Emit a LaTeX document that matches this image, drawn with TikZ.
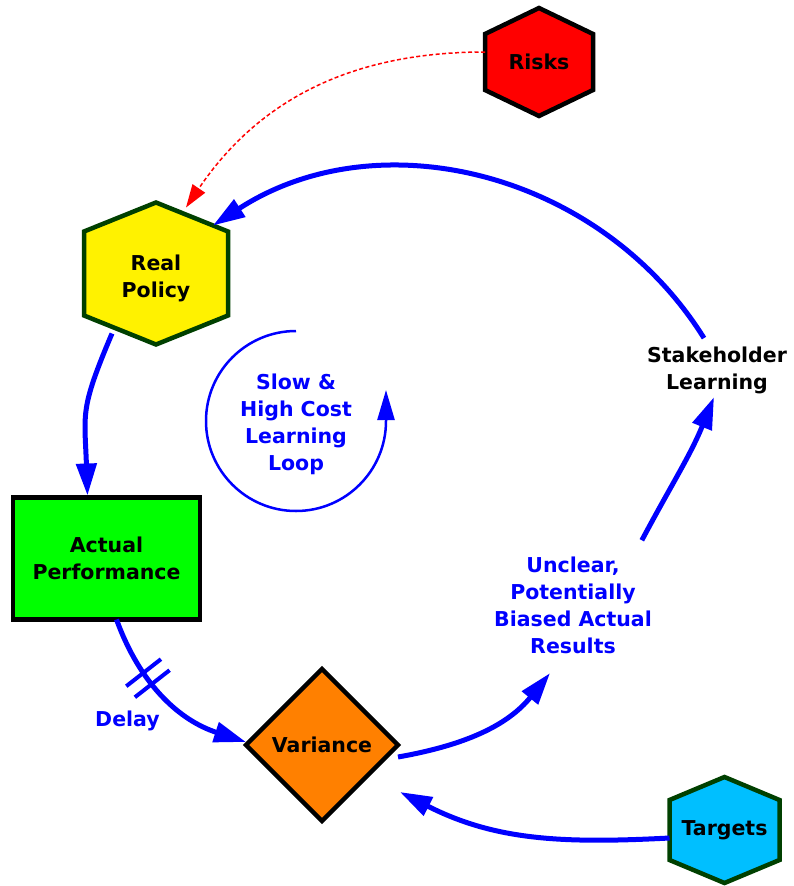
\documentclass[tikz,border=0pt]{standalone}
\usepackage{fontspec}
\setmainfont{DejaVu Sans}
\usepackage{xcolor}
\usepackage{tikz}
\usetikzlibrary{calc}
\usetikzlibrary{arrows.meta}
\usetikzlibrary{shapes.geometric}
\usetikzlibrary{backgrounds}
\usetikzlibrary{decorations.markings}

\definecolor{hexgreen}{RGB}{0,64,0}
\definecolor{varorange}{RGB}{255,128,0}
\definecolor{targetblue}{RGB}{0,191,255}

% hexagon standing on a corner: half width, half height, half side
\newcommand{\hexpath}[3]{(0,#2) -- (#1,#3) -- (#1,-#3) -- (0,-#2) -- (-#1,-#3) -- (-#1,#3) -- cycle}

\begin{document}
\begin{tikzpicture}[x=1pt, y=1pt,
		txt/.style={font=\bfseries\fontsize{20.5}{27}\selectfont, align=center, inner sep=0pt, outer sep=0pt},
		hexagon/.style={line width=4.5pt, line join=miter, draw=hexgreen},
		link/.style={line width=5pt, blue, -{Triangle[length=32pt, width=20pt]}},
		risklink/.style={line width=1.5pt, red, dash pattern=on 4pt off 2.5pt, -{Triangle[length=23pt, width=15pt]}}
	]
	
	\useasboundingbox (0,0) rectangle (794,-886);
	
	% the elements of the loop
	\node[txt, minimum width=108, minimum height=108] (risks) at (539,-62) {Risks};
	\node[txt, minimum width=144, minimum height=142] (policy) at (156,-278) {Real\\Policy};
	\node[txt, draw, line width=4.5pt, fill=green, minimum width=187, minimum height=122] (actual) at (106.5,-558.5) {Actual\\Performance};
	\node[txt, diamond, aspect=1, draw, line width=4.5pt, fill=varorange, minimum width=152, minimum height=152] (variance) at (322,-745) {Variance};
	\node[txt, minimum width=110, minimum height=106] (targets) at (724.5,-830) {Targets};
	\node[txt] (stake) at (717,-370.6) {Stakeholder\\Learning};
	\node[txt, blue] (results) at (573,-605.7) {Unclear,\\Potentially\\Biased Actual\\Results};
	\node[txt, blue] (slow) at (296,-424) {Slow \&\\High Cost\\Learning\\Loop};
	\node[txt, blue] (delay) at (127.5,-720.6) {Delay};
	
	% the hexagons behind their texts
	\begin{scope}[on background layer]
		\filldraw[hexagon, draw=black, fill=red, shift={(risks)}] \hexpath{54}{54}{28};
		\filldraw[hexagon, fill=yellow, shift={([yshift=4.5]policy.center)}] \hexpath{72}{71}{42};
		\filldraw[hexagon, fill=targetblue, shift={(targets)}] \hexpath{55}{53}{30};
	\end{scope}
	
	% the connectors
	\draw[risklink] ([yshift=10]risks.west) to[out=180, in=56] ([shift={(30,-0.5)}]policy.north);
	\draw[link] ([shift={(-13,9)}]stake.north) to[out=122, in=33] ([shift={(57,-18.5)}]policy.north);
	\draw[link] ([shift={(-44,15.5)}]policy.south) to[out=247, in=92, looseness=1.3] ([shift={(-19,2)}]actual.north);
	\draw[link, postaction={decorate}, decoration={markings, mark=at position 0.36 with {\draw[blue, line width=4pt, -] (-7,-22) -- (-7,22) (7,-22) -- (7,22);}}] ([xshift=10]actual.south) to[out=290, in=162] ([yshift=3]variance.west); % with the delay mark
	\draw[link] ([yshift=-12]variance.east) to[out=10, in=231] ([shift={(-23,-19)}]results.south);
	\draw[link] ([shift={(-10,17)}]results.north east) to[out=62, in=248] ([shift={(-3,-3)}]stake.south);
	\draw[link] ([yshift=-8]targets.west) to[out=183, in=-27] ([shift={(2,-47)}]variance.east);
	
	% the small loop round its text
	\draw[line width=2.5pt, blue, -{Triangle[length=30pt, width=17pt]}] ([yshift=3]slow.center) ++(0,90) arc[start angle=90, end angle=360, radius=90] -- ++(0,31);
	
\end{tikzpicture}
\end{document}
